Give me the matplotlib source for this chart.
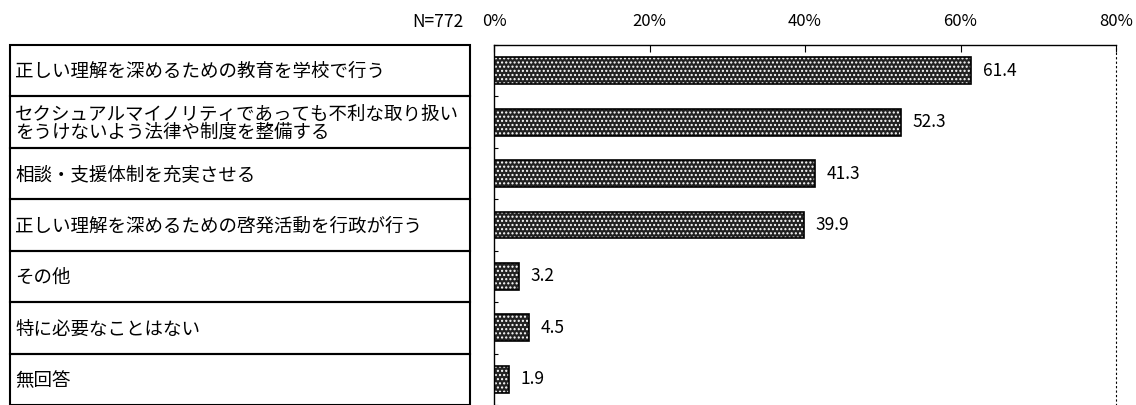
import matplotlib
matplotlib.use("Agg")
import matplotlib.pyplot as plt
from matplotlib.patches import Rectangle
import numpy as np

plt.rcParams['font.family'] = ['Noto Sans CJK JP', 'DejaVu Sans']
plt.rcParams['hatch.linewidth'] = 1.0

categories = [
    "正しい理解を深めるための教育を学校で行う",
    "セクシュアルマイノリティであっても不利な取り扱い\nをうけないよう法律や制度を整備する",
    "相談・支援体制を充実させる",
    "正しい理解を深めるための啓発活動を行政が行う",
    "その他",
    "特に必要なことはない",
    "無回答",
]
values = [61.4, 52.3, 41.3, 39.9, 3.2, 4.5, 1.9]
xticks = [0, 20, 40, 60, 80]
xtick_labels = ["0%", "20%", "40%", "60%", "80%"]
n_label = "N=772"

W, H = 1136, 405
fig = plt.figure(figsize=(W / 100, H / 100), dpi=100)

top_px, bot_px = 45, 405
ax = fig.add_axes([494 / W, 1 - bot_px / H, (1116 - 494) / W, (bot_px - top_px) / H])
tab = fig.add_axes([10 / W, 1 - bot_px / H, (470 - 10) / W, (bot_px - top_px) / H], sharey=ax)

n = len(categories)
y = np.arange(n)

# bars: dark fill with white dot hatch, then black outline
ax.barh(y, values, height=0.52, color='#222222', hatch='....', edgecolor='white', linewidth=0)
ax.barh(y, values, height=0.52, fill=False, edgecolor='black', linewidth=1.2)
for yi, v in zip(y, values):
    ax.text(v + 1.5, yi, f"{v:.1f}", va='center', ha='left', fontsize=12.5)

ax.set_xlim(0, 80)
ax.set_ylim(n - 0.5, -0.5)
ax.xaxis.tick_top()
ax.set_xticks(xticks)
ax.set_xticklabels([])
ax.tick_params(axis='x', direction='in', length=5, width=0.8, top=True, bottom=False)
ax.set_yticks(np.arange(n + 1) - 0.5)
ax.set_yticklabels([])
ax.tick_params(axis='y', direction='in', length=3, width=0.8)
ax.spines['bottom'].set_visible(False)
ax.spines['right'].set_linestyle((0, (1, 3)))
ax.spines['right'].set_linewidth(0.8)
ax.spines['top'].set_linewidth(1.0)
ax.spines['left'].set_linewidth(1.0)

# top tick labels
for t, lab in zip(xticks, xtick_labels):
    ax.text(t, -0.5 - 0.45, lab, ha='center', va='center', fontsize=12)
ax.text(-3.9, -0.5 - 0.45, n_label, ha='right', va='center', fontsize=12.5)

# table of category labels
tab.set_xlim(0, 1)
tab.axis('off')
for i, c in enumerate(categories):
    tab.add_patch(Rectangle((0, i - 0.5), 1, 1, fill=False, edgecolor='black', linewidth=1.5,
                            clip_on=False))
    tab.text(0.011, i + 0.03, c, ha='left', va='center', fontsize=13.3, linespacing=1.02)

fig.savefig("out.png", dpi=100)
